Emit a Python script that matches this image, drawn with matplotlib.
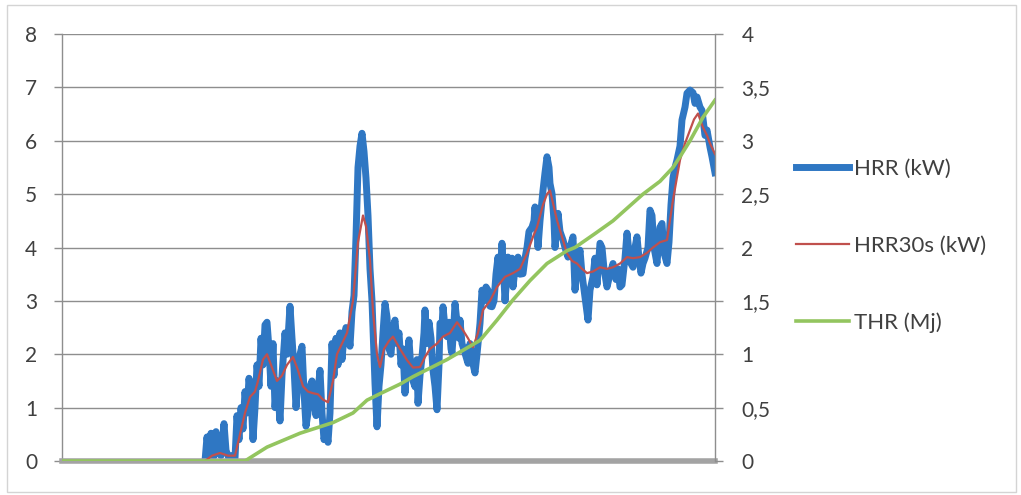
import matplotlib
matplotlib.use("Agg")
import matplotlib.pyplot as plt
from matplotlib.patches import Rectangle

# ---------------- data ----------------
hrr_time = [286, 290, 294, 298, 302, 308, 312, 318, 324, 328, 334, 340, 346, 350, 354, 358, 362, 366, 370, 374,
            378, 382, 386, 390, 394, 398, 402, 406, 410, 414, 418, 422, 426, 430, 436, 440, 446, 450, 456, 460,
            464, 468, 472, 476, 480, 484, 488, 492, 496, 500, 504, 508, 512, 516, 520, 524, 528, 532, 536, 540,
            544, 548, 552, 556, 560, 564, 568, 572, 576, 580, 584, 588, 592, 596, 600, 604, 608, 612, 616, 620,
            624, 626, 630, 634, 638, 642, 646, 650, 654, 658, 662, 666, 670, 674, 678, 682, 686, 690, 694, 698,
            702, 706, 710, 712, 716, 720, 724, 726, 730, 734, 738, 742, 746, 750, 754, 756, 760, 762, 766, 770,
            774, 778, 780, 784, 786, 790, 794, 796, 800, 806, 812, 816, 820, 826, 830, 836, 840, 844, 848, 852,
            856, 860, 864, 868, 872, 876, 880, 884, 886, 890, 892, 896, 900, 902, 906, 912, 916, 922, 926, 930,
            934, 940, 944, 946, 950, 952, 956, 962, 966, 970, 974, 976, 980, 984, 986, 990, 992, 996, 1002, 1006,
            1012, 1016, 1022, 1026, 1030, 1036, 1040, 1046, 1052, 1056, 1062, 1066, 1070, 1076, 1080, 1084, 1090,
            1096, 1102, 1108, 1112, 1116, 1120, 1126, 1130, 1134, 1138, 1142, 1146, 1150, 1154, 1158, 1162, 1166,
            1172, 1176, 1180, 1184, 1190, 1194, 1196, 1200, 1204, 1210, 1214, 1218, 1222, 1226, 1230, 1236, 1240,
            1246, 1250, 1256, 1262, 1266, 1270, 1276, 1280, 1286, 1290, 1296, 1300, 1306]
hrr_kw = [0.0, 0.45, 0.1, 0.52, 0.05, 0.55, 0.15, 0.1, 0.7, 0.2, 0.05, 0.1, 0.05, 0.85, 0.4, 1.0, 0.6, 1.3, 0.9, 1.55,
          1.2, 0.4, 1.0, 1.8, 1.4, 2.3, 1.8, 2.55, 2.6, 2.1, 1.4, 2.2, 1.0, 1.5, 0.75, 1.6, 2.4, 2.0, 2.9, 2.3,
          1.75, 1.0, 1.5, 2.0, 2.15, 1.3, 0.65, 0.9, 1.4, 1.5, 1.1, 0.85, 1.3, 1.7, 0.9, 0.4, 0.6, 0.35, 0.9, 2.2,
          1.6, 2.3, 1.8, 2.4, 1.9, 2.35, 2.5, 2.45, 2.15, 2.8, 3.1, 4.2, 5.5, 5.9, 6.14, 5.8, 5.3, 4.6, 3.6, 3.0,
          2.0, 1.45, 0.64, 1.4, 1.8, 2.4, 2.95, 2.7, 2.1, 2.0, 2.5, 2.64, 2.2, 2.4, 1.8, 2.1, 1.27, 1.9, 2.27, 1.7,
          1.5, 1.39, 1.9, 1.08, 1.6, 1.95, 2.4, 2.83, 2.2, 2.6, 2.3, 1.7, 1.4, 0.96, 1.8, 2.58, 2.5, 2.89, 2.5, 2.33,
          2.6, 2.1, 2.02, 2.6, 2.95, 2.6, 2.3, 2.64, 2.2, 2.02, 1.83, 2.2, 1.9, 1.65, 2.0, 2.58, 3.2, 3.0, 3.26, 3.2,
          2.9, 2.89, 3.0, 3.5, 3.82, 3.4, 4.08, 3.4, 3.0, 3.5, 3.82, 3.5, 3.8, 3.26, 3.6, 3.82, 3.5, 3.51, 3.8, 4.0,
          4.3, 4.38, 4.5, 4.76, 4.3, 4.0, 4.5, 5.07, 5.4, 5.7, 5.5, 5.2, 5.01, 4.5, 4.0, 4.4, 4.64, 4.3, 4.14, 4.0,
          3.82, 4.0, 4.2, 3.2, 3.6, 3.95, 3.5, 3.07, 2.64, 3.2, 3.45, 3.8, 3.3, 4.08, 4.0, 3.6, 3.26,
          3.5, 3.7, 3.4, 3.6, 3.26, 3.3, 3.8, 4.27, 3.9, 3.7, 3.63, 4.0, 4.2, 3.8, 3.52, 3.7, 3.8,
          4.0, 4.7, 4.6, 4.0, 3.7, 4.2, 4.38, 4.45, 3.9, 3.7, 4.1, 4.8, 5.3, 5.5, 5.64, 5.9, 6.39,
          6.63, 6.89, 6.95, 6.9, 6.7, 6.82, 6.63, 6.57, 6.1, 6.2, 5.88, 5.7, 5.4]

hrr30_time = [286, 300, 316, 332, 346, 356, 366, 376, 386, 392, 402, 410, 418, 430, 440, 450, 462, 472, 482, 492,
              502, 512, 522, 532, 542, 550, 560, 570, 582, 592, 602, 608, 616, 622, 630, 636, 644, 654, 662, 676,
              690, 702, 716, 726, 736, 750, 762, 776, 790, 802, 812, 822, 832, 842, 856, 870, 886, 902, 916, 930,
              942, 950, 962, 970, 976, 984, 990, 1000, 1010, 1020, 1030, 1040, 1050, 1062, 1076, 1090, 1102, 1116,
              1130, 1142, 1156, 1170, 1182, 1196, 1210, 1222, 1236, 1246, 1256, 1264, 1272, 1282, 1290, 1296,
              1302, 1306]
hrr30_kw = [0.0, 0.1, 0.15, 0.1, 0.1, 0.5, 0.9, 1.2, 1.3, 1.5, 1.9, 2.0, 1.8, 1.5, 1.6, 1.8, 1.95, 1.7, 1.4, 1.3,
            1.27, 1.25, 1.15, 1.1, 1.5, 2.0, 2.2, 2.4, 3.0, 4.1, 4.6, 4.4, 3.76, 2.8, 2.0, 1.76, 2.1, 2.25, 2.33, 2.1,
            1.89, 1.75, 1.76, 1.95, 2.1, 2.2, 2.33, 2.4, 2.6, 2.45, 2.3, 2.13, 2.4, 2.83, 3.0, 3.26, 3.45, 3.52, 3.6,
            3.89, 4.2, 4.38, 4.8, 5.0, 5.07, 4.75, 4.51, 4.2, 3.89, 3.75, 3.7, 3.6, 3.52, 3.55, 3.63, 3.6, 3.63, 3.7,
            3.82, 3.8, 3.82, 3.9, 4.0, 4.1, 4.14, 4.89, 5.64, 5.95, 6.2, 6.4, 6.51, 6.25, 6.1, 5.95, 5.83, 5.75]

thr_time = [0, 366, 376, 410, 476, 542, 582, 610, 636, 676, 702, 770, 836, 870, 902, 936, 970, 1010, 1026, 1066,
            1102, 1162, 1196, 1222, 1240, 1256, 1282, 1306]
thr_mj = [0.0, 0.0, 0.03, 0.13, 0.26, 0.36, 0.45, 0.57, 0.63, 0.72, 0.79, 0.95, 1.13, 1.32, 1.51, 1.69, 1.85, 1.97,
          2.0, 2.13, 2.25, 2.5, 2.62, 2.75, 2.88, 3.0, 3.22, 3.38]

left_ticks = [0, 1, 2, 3, 4, 5, 6, 7, 8]
right_ticks = [0, 0.5, 1, 1.5, 2, 2.5, 3, 3.5, 4]
right_tick_labels = ["0", "0,5", "1", "1,5", "2", "2,5", "3", "3,5", "4"]
series_labels = ["HRR (kW)", "HRR30s (kW)", "THR (Mj)"]

# ---------------- styling ----------------
plt.rcParams['font.family'] = ['Lato', 'DejaVu Sans']
W, H = 1021, 495
fig = plt.figure(figsize=(W / 100, H / 100), dpi=100)
fig.patch.set_facecolor('white')
fig.patches.append(Rectangle((7 / W, 1 - 492 / H), 1009 / W, 487 / H, transform=fig.transFigure,
                             fill=False, edgecolor='#d4d4d4', linewidth=1.0))

ax = fig.add_axes([62 / W, 1 - 461 / H, 653 / W, 427 / H])
ax2 = ax.twinx()

grid_c = '#8e8e8e'
c_blue = '#2f77c3'
c_red = '#c0504d'
c_green = '#93c55f'

l1, = ax.plot(hrr_time, hrr_kw, color=c_blue, lw=5, solid_joinstyle='round', zorder=2)
l2, = ax.plot(hrr30_time, hrr30_kw, color=c_red, lw=1.6, zorder=3)
l3, = ax2.plot(thr_time, thr_mj, color=c_green, lw=2.6, zorder=4)

ax.set_xlim(0, 1306)
ax.set_ylim(0, 8)
ax2.set_ylim(0, 4)
ax.set_yticks(left_ticks)
ax2.set_yticks(right_ticks)
ax2.set_yticklabels(right_tick_labels)
ax.set_xticks([])

ax.yaxis.grid(True, color=grid_c, lw=1.0)
ax.set_axisbelow(True)

for s in ['top', 'right']:
    ax.spines[s].set_visible(False)
for s in ['top', 'left', 'bottom']:
    ax2.spines[s].set_visible(False)
ax.spines['left'].set_color(grid_c)
ax.spines['left'].set_linewidth(1.0)
ax.spines['bottom'].set_color('#a3a3a3')
ax.spines['bottom'].set_linewidth(4)
ax2.spines['right'].set_color(grid_c)
ax2.spines['right'].set_linewidth(1.0)

ax.tick_params(axis='y', direction='out', length=6, width=1, color=grid_c, pad=12,
               labelsize=15, labelcolor='#404040')
ax2.tick_params(axis='y', direction='out', length=6, width=1, color=grid_c, pad=13,
                labelsize=15, labelcolor='#404040')

fig.legend([l1, l2, l3], series_labels, loc='center left', bbox_to_anchor=(796 / W, 1 - 246 / H),
           bbox_transform=fig.transFigure, frameon=False, fontsize=16, borderpad=0, borderaxespad=0,
           handlelength=2.4, handletextpad=0.22, labelspacing=2.55, labelcolor='#404040')

fig.savefig('out.png', dpi=100, facecolor='white')
